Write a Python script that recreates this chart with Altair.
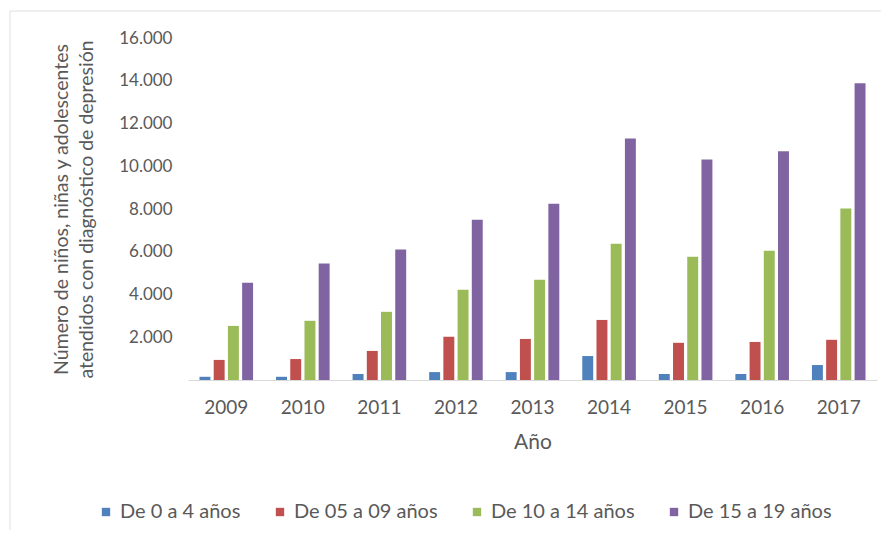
import altair as alt
import pandas as pd

years = ["2009", "2010", "2011", "2012", "2013", "2014", "2015", "2016", "2017"]
groups = ["De 0 a 4 años", "De 05 a 09 años", "De 10 a 14 años", "De 15 a 19 años"]
g0_4 = [150, 150, 280, 370, 370, 1120, 280, 280, 700]
g5_9 = [940, 980, 1360, 2020, 1920, 2810, 1740, 1780, 1880]
g10_14 = [2530, 2770, 3190, 4220, 4690, 6380, 5770, 6050, 8020]
g15_19 = [4550, 5450, 6100, 7500, 8250, 11300, 10320, 10700, 13880]
colors = ["#4F81BD", "#C0504D", "#9BBB59", "#8064A2"]

rows = []
for gname, vals in zip(groups, [g0_4, g5_9, g10_14, g15_19]):
    for y, v in zip(years, vals):
        rows.append({"year": y, "group": gname, "value": v})
df = pd.DataFrame(rows)

FONT = "Lato"
TXT = "#595959"

bars = alt.Chart(df).mark_bar().encode(
    x=alt.X("year:N", sort=years,
            scale=alt.Scale(paddingInner=0.3, paddingOuter=0.15),
            axis=alt.Axis(title="Año", labelAngle=0, ticks=False, domainColor="#d9d9d9",
                          labelFontSize=19, labelColor=TXT, labelPadding=18,
                          titleFontSize=21, titleColor=TXT, titleFontWeight="normal",
                          titlePadding=14, labelFont=FONT, titleFont=FONT)),
    xOffset=alt.XOffset("group:N", sort=groups, scale=alt.Scale(paddingInner=0.23, paddingOuter=0)),
    y=alt.Y("value:Q", scale=alt.Scale(domain=[0, 16000], nice=False),
            axis=alt.Axis(values=list(range(0, 16001, 2000)), grid=False, domain=False, ticks=False,
                          labelExpr="datum.value == 0 ? '' : replace(format(datum.value, ','), ',', '.')",
                          labelFontSize=17, labelColor=TXT, labelPadding=16, labelFont=FONT,
                          title=["Número de niños, niñas y adolescentes",
                                 "atendidos con diagnóstico de depresión"],
                          titleFontSize=19.5, titleColor=TXT, titleFontWeight="normal", titleFont=FONT,
                          titleLineHeight=25, titleAngle=-90, titleX=-136, titleY=171,
                          titleBaseline="top", titleAlign="center")),
    color=alt.Color("group:N", sort=groups, scale=alt.Scale(domain=groups, range=colors),
                    legend=alt.Legend(title=None, orient="none", direction="horizontal",
                                      legendX=-92, legendY=464, symbolType="square",
                                      symbolSize=70, symbolStrokeWidth=0, labelFontSize=20,
                                      labelColor=TXT, labelFont=FONT, columnPadding=29,
                                      symbolOpacity=1)),
)

border_df = pd.DataFrame({"a": [0]})
left_line = alt.Chart(border_df).mark_rule(color="#e0e0e0", strokeWidth=1).encode(
    x=alt.value(-178), y=alt.value(-27), y2=alt.value(505))
top_line = alt.Chart(border_df).mark_rule(color="#e0e0e0", strokeWidth=1).encode(
    x=alt.value(-178), x2=alt.value(700), y=alt.value(-27))

chart = alt.layer(bars, left_line, top_line).properties(
    width=689, height=342,
    autosize=alt.AutoSizeParams(type="none"),
    padding={"left": 180, "top": 30, "right": 4, "bottom": 150},
    background="white",
).configure_view(stroke=None)

chart.save("out.html", embed_options={"renderer": "svg", "actions": False})
